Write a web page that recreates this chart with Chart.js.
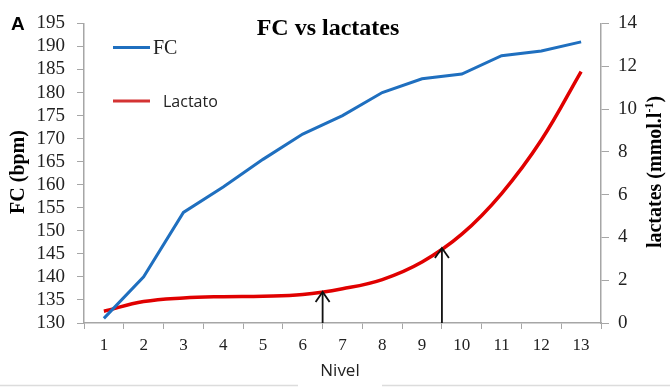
<!DOCTYPE html>
<html>
<head>
<meta charset="utf-8">
<script src="https://cdn.jsdelivr.net/npm/chart.js@4.4.1/dist/chart.umd.min.js"></script>
<style>
  html, body { margin: 0; padding: 0; background: #fff; }
  #wrap { width: 670px; height: 387px; position: relative; }
</style>
</head>
<body>
<div id="wrap"><canvas id="c"></canvas></div>
<script>
// ---- data ----
const levels = ['1','2','3','4','5','6','7','8','9','10','11','12','13'];
const fcValues = [131, 140, 154, 159.5, 165.5, 171, 175, 180, 183, 184, 188, 189, 191];
const lactateValues = [0.55, 1.0, 1.17, 1.23, 1.25, 1.33, 1.6, 2.03, 2.85, 4.15, 6.05, 8.55, 11.75];
const arrowLevels = [6.5, 9.5];      // between levels
const arrowTipLactate = [1.5, 3.55]; // mmol/l where arrows point
const titleText = 'FC vs lactates';
const panelLetter = 'A';
const xTitle = 'Nivel';
const yTitle = 'FC (bpm)';
const y1TitleMain = 'lactates (mmol.l';
const y1TitleSup = '-1';
const y1TitleEnd = ')';

const SERIF = '"Liberation Serif", "Times New Roman", serif';
const SANS = '"Open Sans", "Liberation Sans", sans-serif';
const AXIS = '#a6a6a6';

const overlay = {
  id: 'overlay',
  afterDatasetsDraw(chart) {
    const ctx = chart.ctx;
    const xs = chart.scales.x, y1 = chart.scales.y1;
    ctx.save();
    ctx.strokeStyle = '#111';
    ctx.lineWidth = 1.8;
    arrowLevels.forEach((lv, i) => {
      const x = xs.getPixelForValue(lv - 1);
      const yb = y1.getPixelForValue(0);
      const yt = y1.getPixelForValue(arrowTipLactate[i]);
      ctx.beginPath();
      ctx.moveTo(x, yb);
      ctx.lineTo(x, yt + 1);
      ctx.stroke();
      ctx.beginPath();
      ctx.moveTo(x - 7, yt + 11);
      ctx.lineTo(x, yt + 1);
      ctx.lineTo(x + 7, yt + 11);
      ctx.stroke();
    });
    ctx.restore();
  },
  afterDraw(chart) {
    const ctx = chart.ctx;
    ctx.save();
    // title
    ctx.fillStyle = '#000';
    ctx.textAlign = 'center';
    ctx.textBaseline = 'middle';
    ctx.font = 'bold 24px ' + SERIF;
    ctx.fillText(titleText, 328, 29);
    // panel letter
    ctx.textAlign = 'left';
    ctx.font = 'bold 19px "Liberation Sans", Arial, sans-serif';
    ctx.fillText(panelLetter, 11, 25);
    // legend
    const ds = chart.data.datasets;
    const legendY = [47.5, 101];
    const legendTextX = [153, 163];
    const legendFont = ['20px ' + SERIF, '16px ' + SANS];
    ds.forEach((d, i) => {
      ctx.strokeStyle = i === 0 ? d.borderColor : '#d43333';
      ctx.lineWidth = 3;
      ctx.beginPath();
      ctx.moveTo(113, legendY[i]);
      ctx.lineTo(150, legendY[i]);
      ctx.stroke();
      ctx.fillStyle = '#222';
      ctx.font = legendFont[i];
      ctx.textAlign = 'left';
      ctx.textBaseline = 'middle';
      ctx.fillText(d.label, legendTextX[i], legendY[i] + 1);
    });
    // x title
    ctx.fillStyle = '#222';
    ctx.font = '17px ' + SANS;
    ctx.textAlign = 'center';
    ctx.textBaseline = 'middle';
    ctx.fillText(xTitle, 340, 371);
    // left y title
    ctx.save();
    ctx.translate(19, 172);
    ctx.rotate(-Math.PI / 2);
    ctx.font = 'bold 20px ' + SERIF;
    ctx.fillStyle = '#000';
    ctx.textAlign = 'center';
    ctx.textBaseline = 'middle';
    ctx.fillText(yTitle, 0, 0);
    ctx.restore();
    // right y title (reads bottom to top, with superscript)
    ctx.save();
    ctx.translate(656, 172);
    ctx.rotate(-Math.PI / 2);
    ctx.fillStyle = '#000';
    ctx.textBaseline = 'middle';
    const fMain = 'bold 20px ' + SERIF, fSup = 'bold 12px ' + SERIF;
    ctx.font = fMain; const w1 = ctx.measureText(y1TitleMain).width;
    const w3 = ctx.measureText(y1TitleEnd).width;
    ctx.font = fSup; const w2 = ctx.measureText(y1TitleSup).width;
    let sx = -(w1 + w2 + w3) / 2;
    ctx.textAlign = 'left';
    ctx.font = fMain; ctx.fillText(y1TitleMain, sx, 0); sx += w1;
    ctx.font = fSup; ctx.fillText(y1TitleSup, sx, -6); sx += w2;
    ctx.font = fMain; ctx.fillText(y1TitleEnd, sx, 0);
    ctx.restore();
    // bottom separator
    ctx.strokeStyle = '#dcdcdc';
    ctx.lineWidth = 1.5;
    ctx.beginPath();
    ctx.moveTo(0, 385.5); ctx.lineTo(298, 385.5);
    ctx.moveTo(382, 385.5); ctx.lineTo(670, 385.5);
    ctx.stroke();
    ctx.restore();
  }
};

new Chart(document.getElementById('c'), {
  type: 'line',
  data: {
    labels: levels,
    datasets: [
      {
        label: 'FC',
        data: fcValues,
        yAxisID: 'y',
        borderColor: '#1f6fbf',
        borderWidth: 3,
        pointRadius: 0,
        tension: 0,
        fill: false
      },
      {
        label: 'Lactato',
        data: lactateValues,
        yAxisID: 'y1',
        borderColor: '#e00000',
        borderWidth: 3.5,
        pointRadius: 0,
        tension: 0.4,
        fill: false
      }
    ]
  },
  options: {
    responsive: true,
    maintainAspectRatio: false,
    animation: false,
    layout: { padding: { top: 19, left: 0, right: 0, bottom: 0 } },
    plugins: { legend: { display: false }, title: { display: false }, tooltip: { enabled: false } },
    scales: {
      x: {
        type: 'category',
        offset: true,
        grid: { offset: true, drawOnChartArea: false, drawTicks: true, tickLength: 6, color: AXIS },
        border: { color: AXIS, width: 1.5 },
        ticks: { color: '#222', font: { family: SERIF, size: 17 }, padding: 6, maxRotation: 0, autoSkip: false },
        afterFit: s => { s.height = 64; }
      },
      y: {
        position: 'left',
        min: 130, max: 195,
        ticks: { stepSize: 5, autoSkip: false, color: '#222', font: { family: SERIF, size: 19 }, padding: 12 },
        grid: { drawOnChartArea: false, drawTicks: true, tickLength: 7, color: AXIS },
        border: { color: AXIS, width: 1.5 },
        afterFit: s => { s.width = 84; }
      },
      y1: {
        position: 'right',
        min: 0, max: 14,
        ticks: { stepSize: 2, autoSkip: false, color: '#222', font: { family: SERIF, size: 19 }, padding: 9 },
        grid: { drawOnChartArea: false, drawTicks: true, tickLength: 8, color: AXIS },
        border: { color: AXIS, width: 1.5 },
        afterFit: s => { s.width = 69; }
      }
    }
  },
  plugins: [overlay]
});
</script>
</body>
</html>
